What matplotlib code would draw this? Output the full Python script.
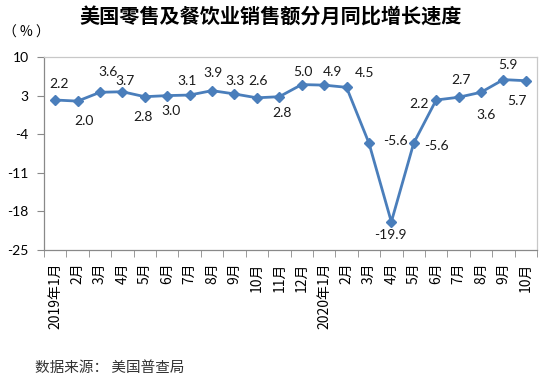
import matplotlib
matplotlib.use("Agg")
import matplotlib.pyplot as plt
import numpy as np

categories = ["2019年1月", "2月", "3月", "4月", "5月", "6月", "7月", "8月", "9月", "10月",
              "11月", "12月", "2020年1月", "2月", "3月", "4月", "5月", "6月", "7月", "8月",
              "9月", "10月"]
values = [2.2, 2.0, 3.6, 3.7, 2.8, 3.0, 3.1, 3.9, 3.3, 2.6, 2.8, 5.0,
          4.9, 4.5, -5.6, -19.9, -5.6, 2.2, 2.7, 3.6, 5.9, 5.7]
yticks = [10, 3, -4, -11, -18, -25]

# label offsets in pixels (dx, dy)
offsets = [(4, 16), (6, -20), (8, 20), (3, 11), (-2, -20), (4, -15), (-3, 14), (1, 18),
           (1, 13), (1, 17), (3, -16), (1, 13), (8, 13), (18, 14), (27, 2), (-1, -13),
           (23, -3), (-17, -4), (2, 17), (5, -23), (5, 15), (-9, -20)]

cjk = ["Noto Sans CJK SC", "DejaVu Sans"]
num = ["Lato", "DejaVu Sans"]
plt.rcParams['font.family'] = cjk

fig = plt.figure(figsize=(5.51, 3.82), dpi=100)
ax = fig.add_axes([44/551, 1-250/382, (537-44)/551, (250-57)/382])

x = np.arange(len(values))
color = "#4A7EBB"
ax.plot(x, values, color=color, lw=2, marker="D", markersize=5.5, zorder=3)

for xi, v, (dx, dy) in zip(x, values, offsets):
    ax.annotate(f"{v:.1f}", (xi, v), xytext=(dx, dy), textcoords="offset pixels",
                ha="center", va="center", fontsize=10, family=num, color="#1a1a1a")

ax.set_xlim(-0.5, len(values) - 0.5)
ax.set_ylim(-25, 10)
ax.set_yticks(yticks)
ax.set_yticklabels([str(t) for t in yticks], fontsize=10, family=num)

ax.set_xticks(x)
ax.set_xticklabels(categories, rotation=90, fontsize=10, va="top", ha="center")
ax.set_xticks(np.arange(-0.5, len(values), 1), minor=True)
ax.tick_params(axis="x", which="major", length=0, pad=9)
ax.tick_params(axis="x", which="minor", length=5, direction="out", color="#898989")
ax.tick_params(axis="y", length=5, direction="out", color="#898989", pad=6)

for s in ["left", "bottom"]:
    ax.spines[s].set_color("#898989")
for s in ["top", "right"]:
    ax.spines[s].set_color("#c8c8c8")
for s in ax.spines.values():
    s.set_linewidth(0.9)

fig.text(271/551, 1-17/382, "美国零售及餐饮业销售额分月同比增长速度", ha="center", va="center",
         fontsize=14.5, fontweight="bold")
fig.text(26/551, 1-33/382, "（ % ）", ha="center", va="center", fontsize=10)
fig.text(35/551, 1-368/382, "数据来源： 美国普查局", ha="left", va="center", fontsize=10.5,
         color="#333333")

fig.savefig("out.png", dpi=100)
